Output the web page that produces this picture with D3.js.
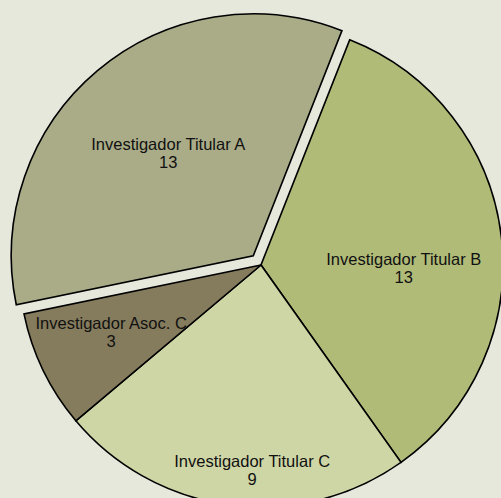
<!DOCTYPE html>
<html lang="es">
	<head>
		<meta charset="utf-8">
		<title>Investigadores</title>
		<script type="text/javascript" src="https://cdn.jsdelivr.net/npm/d3@7"></script>
		<style type="text/css">
			html, body {
				margin: 0;
				padding: 0;
				background: #e6e8dc;
				overflow: hidden;
			}
			.label text {
				font-family: "Liberation Sans", Arial, sans-serif;
				font-size: 16.5px;
				fill: #111;
			}
		</style>
	</head>
	<body>
		<script type="text/javascript">

			// data
			var categories = ["Investigador Titular A", "Investigador Titular B", "Investigador Titular C", "Investigador Asoc. C"];
			var values = [13, 13, 9, 3];
			var colors = ["#aaac88", "#b0bb78", "#cfd6a6", "#857c5d"];

			// which slice is pulled out and by how much (px)
			var explode = [12, 0, 0, 0];
			// label placement: fraction of radius, and angle tweak in degrees
			var labelRadius = [0.557, 0.59, 0.84, 0.675];
			var labelTurn = [1, 7.4, -4.8, 2.4];

			var w = 501;
			var h = 498;
			var cx = 261;
			var cy = 265;
			var radius = 242;

			var svg = d3.select("body")
						.append("svg")
						.attr("width", w)
						.attr("height", h);

			svg.append("rect")
				.attr("width", w)
				.attr("height", h)
				.attr("fill", "#e6e8dc");

			var pie = d3.pie()
						.sort(null)
						.startAngle(-101.66 * Math.PI / 180)
						.endAngle((360 - 101.66) * Math.PI / 180);

			var arc = d3.arc()
						.innerRadius(0)
						.outerRadius(radius);

			var slices = pie(values);

			function shift(d, i) {
				var mid = (d.startAngle + d.endAngle) / 2;
				return [Math.sin(mid) * explode[i], -Math.cos(mid) * explode[i]];
			}

			var g = svg.append("g")
						.attr("transform", "translate(" + cx + "," + cy + ")");

			// slices
			g.selectAll("path")
				.data(slices)
				.enter()
				.append("path")
				.attr("d", arc)
				.attr("transform", function(d, i) {
					var s = shift(d, i);
					return "translate(" + s[0] + "," + s[1] + ")";
				})
				.attr("fill", function(d, i) { return colors[i]; })
				.attr("stroke", "#000")
				.attr("stroke-width", 1.6)
				.attr("stroke-linejoin", "miter");

			// labels
			var labels = g.selectAll("g.label")
				.data(slices)
				.enter()
				.append("g")
				.attr("class", "label")
				.attr("transform", function(d, i) {
					var s = shift(d, i);
					var a = (d.startAngle + d.endAngle) / 2 + labelTurn[i] * Math.PI / 180;
					var r = radius * labelRadius[i];
					return "translate(" + (s[0] + Math.sin(a) * r) + "," + (s[1] - Math.cos(a) * r) + ")";
				});

			labels.append("text")
				.attr("text-anchor", "middle")
				.attr("y", -1)
				.text(function(d, i) { return categories[i]; });

			labels.append("text")
				.attr("text-anchor", "middle")
				.attr("y", 17)
				.text(function(d) { return d.value; });

		</script>
	</body>
</html>
